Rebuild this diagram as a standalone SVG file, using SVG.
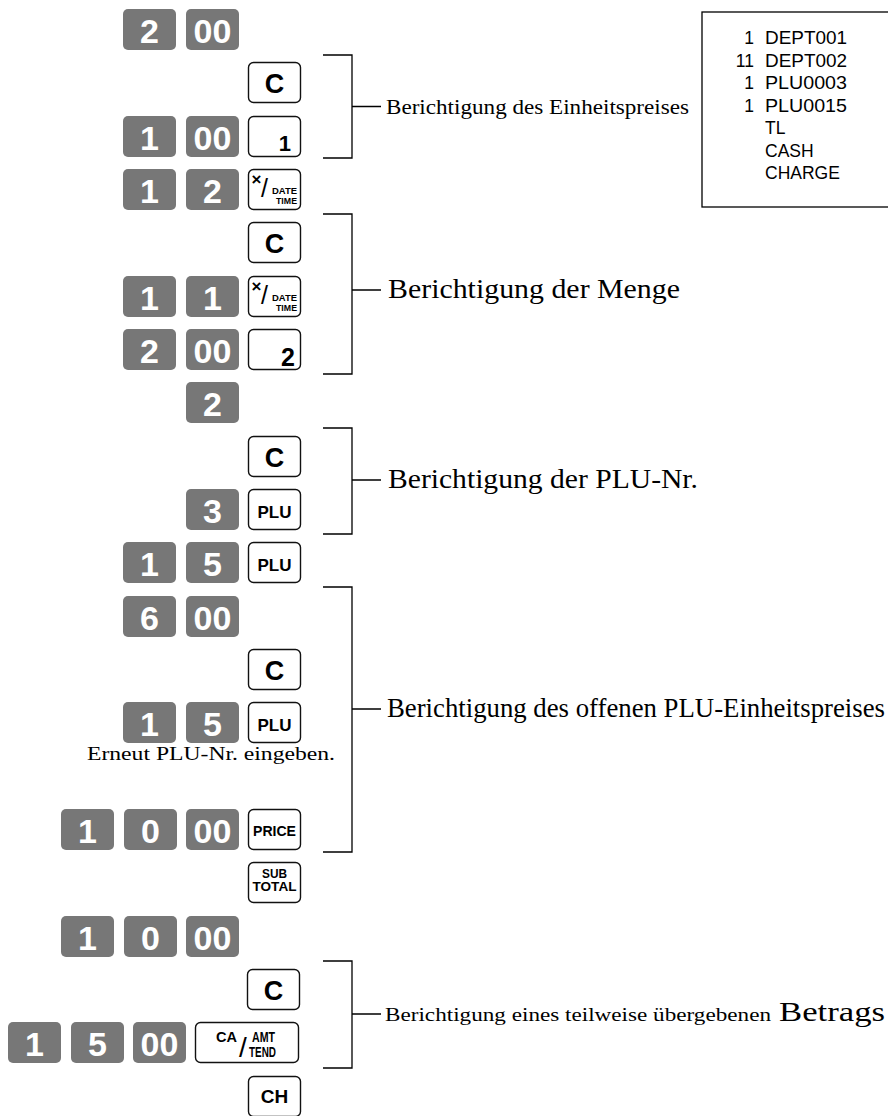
<svg xmlns="http://www.w3.org/2000/svg" width="888" height="1116" viewBox="0 0 888 1116">
<style>
.g{fill:#777777}
.w{fill:#ffffff;stroke:#111111;stroke-width:1.4}
.d{font-family:"Liberation Sans",Arial,sans-serif;font-weight:bold;font-size:34px;fill:#ffffff;text-anchor:middle}
.k{font-family:"Liberation Sans",Arial,sans-serif;font-weight:bold;fill:#000000}
.s{font-family:"Liberation Sans",Arial,sans-serif;fill:#000000}
.m{text-anchor:middle}
.e{text-anchor:end}
.lbl{font-family:"Liberation Serif","Times New Roman",serif;fill:#000000}
.rc{font-family:"Liberation Sans",Arial,sans-serif;font-size:17.5px;fill:#000000}
.br{fill:none;stroke:#000000;stroke-width:1.3}
</style>
<defs>
<rect id="gk" class="g" width="53" height="41" rx="5"/>
<rect id="wk" class="w" width="52" height="40" rx="5"/>
</defs>

<g id="receipt">
<rect x="702" y="12" width="200" height="195" fill="#ffffff" stroke="#000000" stroke-width="1.3"/>
<text class="rc e" x="754" y="44">1</text><text class="rc" x="765" y="44" textLength="82" lengthAdjust="spacingAndGlyphs">DEPT001</text>
<text class="rc e" x="754" y="66.5">11</text><text class="rc" x="765" y="66.5" textLength="82" lengthAdjust="spacingAndGlyphs">DEPT002</text>
<text class="rc e" x="754" y="89">1</text><text class="rc" x="765" y="89" textLength="82" lengthAdjust="spacingAndGlyphs">PLU0003</text>
<text class="rc e" x="754" y="111.5">1</text><text class="rc" x="765" y="111.5" textLength="82" lengthAdjust="spacingAndGlyphs">PLU0015</text>
<text class="rc" x="765" y="134">TL</text>
<text class="rc" x="765" y="156.5">CASH</text>
<text class="rc" x="765" y="179">CHARGE</text>
</g>

<g id="row0">
<use href="#gk" x="123" y="9"/><text class="d" x="149.5" y="43">2</text>
<use href="#gk" x="186" y="9"/><text class="d" x="212.5" y="43">00</text>
</g>
<g id="row1"><use href="#wk" x="248.5" y="62.5"/><text class="k m" x="274.5" y="92.5" font-size="27">C</text></g>
<g id="row2">
<use href="#gk" x="123" y="116"/><text class="d" x="149.5" y="150">1</text>
<use href="#gk" x="186" y="116"/><text class="d" x="212.5" y="150">00</text>
<use href="#wk" x="248.5" y="116.5"/><text class="k e" x="291" y="151" font-size="22">1</text>
</g>
<g id="row3">
<use href="#gk" x="123" y="169"/><text class="d" x="149.5" y="203">1</text>
<use href="#gk" x="186" y="169"/><text class="d" x="212.5" y="203">2</text>
<use href="#wk" x="248.5" y="169.5"/>
<text class="k" x="251.5" y="185" font-size="17">×</text>
<text class="s" x="261" y="197" font-size="25">/</text>
<text class="k" x="272" y="193.5" font-size="9.5" textLength="25" lengthAdjust="spacingAndGlyphs">DATE</text>
<text class="k" x="276" y="203.5" font-size="9.5" textLength="21" lengthAdjust="spacingAndGlyphs">TIME</text>
</g>
<g id="row4"><use href="#wk" x="248.5" y="222.5"/><text class="k m" x="274.5" y="252.5" font-size="27">C</text></g>
<g id="row5">
<use href="#gk" x="123" y="276"/><text class="d" x="149.5" y="310">1</text>
<use href="#gk" x="186" y="276"/><text class="d" x="212.5" y="310">1</text>
<use href="#wk" x="248.5" y="276.5"/>
<text class="k" x="251.5" y="292" font-size="17">×</text>
<text class="s" x="261" y="304" font-size="25">/</text>
<text class="k" x="272" y="300.5" font-size="9.5" textLength="25" lengthAdjust="spacingAndGlyphs">DATE</text>
<text class="k" x="276" y="310.5" font-size="9.5" textLength="21" lengthAdjust="spacingAndGlyphs">TIME</text>
</g>
<g id="row6">
<use href="#gk" x="123" y="329"/><text class="d" x="149.5" y="363">2</text>
<use href="#gk" x="186" y="329"/><text class="d" x="212.5" y="363">00</text>
<use href="#wk" x="248.5" y="329.5"/><text class="k e" x="295" y="366" font-size="25">2</text>
</g>
<g id="row7"><use href="#gk" x="186" y="382"/><text class="d" x="212.5" y="416">2</text></g>
<g id="row8"><use href="#wk" x="248.5" y="436.5"/><text class="k m" x="274.5" y="466.5" font-size="27">C</text></g>
<g id="row9">
<use href="#gk" x="186" y="489"/><text class="d" x="212.5" y="523">3</text>
<use href="#wk" x="248.5" y="489.5"/><text class="k m" x="274.5" y="518" font-size="17">PLU</text>
</g>
<g id="row10">
<use href="#gk" x="123" y="542"/><text class="d" x="149.5" y="576">1</text>
<use href="#gk" x="186" y="542"/><text class="d" x="212.5" y="576">5</text>
<use href="#wk" x="248.5" y="542.5"/><text class="k m" x="274.5" y="571" font-size="17">PLU</text>
</g>
<g id="row11">
<use href="#gk" x="123" y="596"/><text class="d" x="149.5" y="630">6</text>
<use href="#gk" x="186" y="596"/><text class="d" x="212.5" y="630">00</text>
</g>
<g id="row12"><use href="#wk" x="248.5" y="649.5"/><text class="k m" x="274.5" y="679.5" font-size="27">C</text></g>
<g id="row13">
<use href="#gk" x="123" y="702"/><text class="d" x="149.5" y="736">1</text>
<use href="#gk" x="186" y="702"/><text class="d" x="212.5" y="736">5</text>
<use href="#wk" x="248.5" y="702.5"/><text class="k m" x="274.5" y="731" font-size="17">PLU</text>
<text class="lbl" x="87" y="760" font-size="19.5" textLength="248" lengthAdjust="spacingAndGlyphs">Erneut PLU-Nr. eingeben.</text>
</g>
<g id="row14">
<use href="#gk" x="61" y="809"/><text class="d" x="87.5" y="843">1</text>
<use href="#gk" x="124" y="809"/><text class="d" x="150.5" y="843">0</text>
<use href="#gk" x="186" y="809"/><text class="d" x="212.5" y="843">00</text>
<use href="#wk" x="248.5" y="809.5"/><text class="k m" x="274.5" y="836" font-size="15" textLength="43" lengthAdjust="spacingAndGlyphs">PRICE</text>
</g>
<g id="row15">
<use href="#wk" x="248.5" y="862.5"/>
<text class="k m" x="274.5" y="878" font-size="13.5" textLength="25" lengthAdjust="spacingAndGlyphs">SUB</text>
<text class="k m" x="274.5" y="891" font-size="13.5" textLength="44" lengthAdjust="spacingAndGlyphs">TOTAL</text>
</g>
<g id="row16">
<use href="#gk" x="61" y="916"/><text class="d" x="87.5" y="950">1</text>
<use href="#gk" x="124" y="916"/><text class="d" x="150.5" y="950">0</text>
<use href="#gk" x="186" y="916"/><text class="d" x="212.5" y="950">00</text>
</g>
<g id="row17"><use href="#wk" x="247.5" y="969.5"/><text class="k m" x="273.5" y="999.5" font-size="27">C</text></g>
<g id="row18">
<use href="#gk" x="8" y="1022"/><text class="d" x="34.5" y="1056">1</text>
<use href="#gk" x="71" y="1022"/><text class="d" x="97.5" y="1056">5</text>
<use href="#gk" x="133" y="1022"/><text class="d" x="159.5" y="1056">00</text>
<rect class="w" x="195.5" y="1022.5" width="103" height="40" rx="5"/>
<text class="k" x="216" y="1042" font-size="14" textLength="21" lengthAdjust="spacingAndGlyphs">CA</text>
<text class="s" x="239" y="1057" font-size="28">/</text>
<text class="k" x="252" y="1042" font-size="14" textLength="23" lengthAdjust="spacingAndGlyphs">AMT</text>
<text class="k" x="249" y="1057" font-size="14" textLength="27" lengthAdjust="spacingAndGlyphs">TEND</text>
</g>
<g id="row19"><use href="#wk" x="248.5" y="1076.5"/><text class="k m" x="274.5" y="1103" font-size="19">CH</text></g>

<g id="connectors">
<path class="br" d="M323,55 H352 V158 H323 M352,106.5 H381"/>
<path class="br" d="M323,214 H352 V374 H323 M352,290 H381"/>
<path class="br" d="M323,428 H352 V534 H323 M352,480 H381"/>
<path class="br" d="M323,587 H352 V852 H323 M352,709 H381"/>
<path class="br" d="M323,961 H352 V1068 H323 M352,1014 H381"/>
</g>

<g id="labels">
<text class="lbl" x="386" y="114" font-size="20.5" textLength="303" lengthAdjust="spacingAndGlyphs">Berichtigung des Einheitspreises</text>
<text class="lbl" x="388" y="298" font-size="28" textLength="292" lengthAdjust="spacingAndGlyphs">Berichtigung der Menge</text>
<text class="lbl" x="388" y="488" font-size="28" textLength="310" lengthAdjust="spacingAndGlyphs">Berichtigung der PLU-Nr.</text>
<text class="lbl" x="387" y="717" font-size="27" textLength="498" lengthAdjust="spacingAndGlyphs">Berichtigung des offenen PLU-Einheitspreises</text>
<text class="lbl" x="385" y="1021" font-size="18" textLength="386" lengthAdjust="spacingAndGlyphs">Berichtigung eines teilweise übergebenen</text>
<text class="lbl" x="779" y="1021" font-size="27" textLength="106" lengthAdjust="spacingAndGlyphs">Betrags</text>
</g>
</svg>
